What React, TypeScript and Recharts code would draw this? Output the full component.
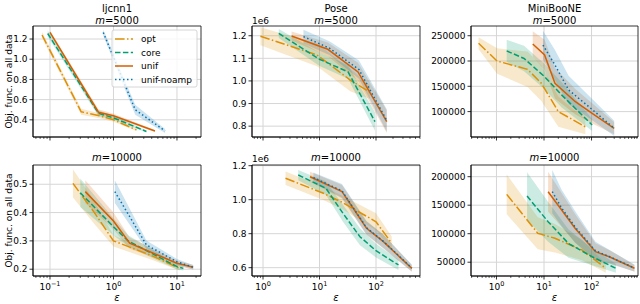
import React from 'react';
import { ComposedChart, Line, Area, XAxis, YAxis, CartesianGrid, ReferenceArea } from 'recharts';

// each point: [epsilon, objective, half width of the shaded band]
type Pt = [number, number, number];

// ljcnn1, m=5000
const LJ5_OPT: Pt[] = [[0.075, 1.24, 0.03], [0.31, 0.48, 0.03], [0.6, 0.44, 0.025], [1.0, 0.4, 0.02], [2.3, 0.3, 0.01]];
const LJ5_CORE: Pt[] = [[0.092, 1.255, 0.03], [0.58, 0.465, 0.03], [1.0, 0.42, 0.02], [3.3, 0.285, 0.01]];
const LJ5_UNIF: Pt[] = [[0.1, 1.265, 0.02], [0.58, 0.475, 0.03], [1.0, 0.44, 0.02], [4.5, 0.29, 0.01]];
const LJ5_NOAMP: Pt[] = [[0.69, 1.265, 0.03], [2.2, 0.5, 0.05], [6.5, 0.29, 0.02]];

// ljcnn1, m=10000
const LJ10_OPT: Pt[] = [[0.23, 0.503, 0.05], [0.5, 0.4, 0.04], [1.0, 0.3, 0.02], [3.8, 0.25, 0.015], [11, 0.203, 0.008]];
const LJ10_CORE: Pt[] = [[0.3, 0.47, 0.05], [1.0, 0.35, 0.03], [1.7, 0.3, 0.02], [10, 0.209, 0.01], [12.6, 0.203, 0.008]];
const LJ10_UNIF: Pt[] = [[0.36, 0.474, 0.04], [1.0, 0.37, 0.03], [1.8, 0.292, 0.02], [10, 0.221, 0.01], [18, 0.207, 0.008]];
const LJ10_NOAMP: Pt[] = [[1.05, 0.474, 0.04], [3.3, 0.286, 0.015], [10, 0.226, 0.01], [18, 0.207, 0.008]];

// Pose, m=5000
const PO5_OPT: Pt[] = [[0.9, 1.198e6, 0.04e6], [9, 1.115e6, 0.05e6], [35, 1.004e6, 0.05e6], [78, 0.95e6, 0.03e6]];
const PO5_CORE: Pt[] = [[1.9, 1.21e6, 0.02e6], [10, 1.096e6, 0.03e6], [32, 1.04e6, 0.03e6], [96, 0.82e6, 0.04e6]];
const PO5_UNIF: Pt[] = [[3.2, 1.199e6, 0.02e6], [14, 1.14e6, 0.03e6], [48, 1.04e6, 0.04e6], [155, 0.82e6, 0.05e6]];
const PO5_NOAMP: Pt[] = [[5.2, 1.196e6, 0.03e6], [15, 1.145e6, 0.03e6], [50, 1.05e6, 0.04e6], [155, 0.825e6, 0.05e6]];

// Pose, m=10000
const PO10_OPT: Pt[] = [[2.5, 1.126e6, 0.04e6], [11.7, 1.038e6, 0.04e6], [26, 0.982e6, 0.04e6], [100, 0.87e6, 0.05e6], [190, 0.743e6, 0.04e6]];
const PO10_CORE: Pt[] = [[4.2, 1.145e6, 0.03e6], [13, 1.067e6, 0.04e6], [26, 0.92e6, 0.05e6], [52, 0.782e6, 0.05e6], [100, 0.7e6, 0.04e6], [250, 0.616e6, 0.03e6]];
const PO10_UNIF: Pt[] = [[6.8, 1.135e6, 0.03e6], [25, 1.047e6, 0.04e6], [68, 0.832e6, 0.04e6], [135, 0.753e6, 0.04e6], [430, 0.596e6, 0.02e6]];
const PO10_NOAMP: Pt[] = [[7.8, 1.13e6, 0.03e6], [25, 1.052e6, 0.04e6], [68, 0.835e6, 0.04e6], [135, 0.755e6, 0.04e6], [430, 0.598e6, 0.02e6]];

// MiniBooNE, m=5000
const MB5_OPT: Pt[] = [[0.42, 235000, 12000], [1.03, 200000, 25000], [4.5, 183600, 35000], [8.8, 156000, 35000], [20, 100000, 30000], [74, 70000, 15000]];
const MB5_CORE: Pt[] = [[1.64, 220000, 22000], [3.8, 205000, 25000], [10.3, 169000, 25000], [23.5, 133000, 25000], [103, 73500, 12000]];
const MB5_UNIF: Pt[] = [[5.8, 233600, 25000], [10.3, 212000, 30000], [17, 156000, 30000], [45, 120000, 25000], [103, 96500, 20000], [300, 67000, 12000]];
const MB5_NOAMP: Pt[] = [[9.5, 231600, 28000], [17, 192000, 30000], [33, 142700, 28000], [87, 110000, 22000], [300, 67000, 15000]];

// MiniBooNE, m=10000
const MB10_OPT: Pt[] = [[1.64, 169000, 35000], [7.4, 100700, 28000], [17, 92000, 25000], [63, 71400, 18000], [200, 39300, 8000]];
const MB10_CORE: Pt[] = [[4.4, 166000, 42000], [12.2, 121000, 35000], [32.6, 83000, 25000], [103, 59600, 15000], [325, 39300, 8000]];
const MB10_UNIF: Pt[] = [[12.2, 173700, 35000], [23.5, 141600, 30000], [45, 109500, 25000], [121, 68400, 15000], [235, 59600, 12000], [800, 39300, 6000]];
const MB10_NOAMP: Pt[] = [[14.9, 173700, 38000], [23.5, 145000, 32000], [45, 112000, 28000], [121, 70000, 16000], [235, 60000, 12000], [800, 39800, 6000]];

const SERIES_NAMES = ['opt', 'core', 'unif', 'unif-noamp'];
const SERIES_COLORS = ['#de8f05', '#029e73', '#d55e00', '#0173b2'];
const SERIES_DASH = ['9.6 2.4 1.5 2.4', '5.5 2.4', undefined, '1.5 2.5'];

const DATASETS = ['ljcnn1', 'Pose', 'MiniBooNE'];
const SIZES = ['5000', '10000'];

const LJ5_TICKS = [0.4, 0.6, 0.8, 1.0, 1.2];
const LJ10_TICKS = [0.2, 0.3, 0.4, 0.5];
const PO5_TICKS = [0.8e6, 0.9e6, 1.0e6, 1.1e6, 1.2e6];
const PO10_TICKS = [0.6e6, 0.8e6, 1.0e6, 1.2e6];
const MB5_TICKS = [100000, 150000, 200000, 250000];
const MB10_TICKS = [50000, 100000, 150000, 200000];

const COLS = [
  { left: 33, right: 201, yW: 33, x: [0.054, 23.9], majors: [0.1, 1, 10] },
  { left: 252, right: 420, yW: 46, x: [0.638, 601], majors: [1, 10, 100] },
  { left: 471, right: 638, yW: 50, x: [0.291, 950], majors: [1, 10, 100] },
];
const ROWS = [
  { top: 26, bottom: 137, chartTop: 0, xH: 13 },
  { top: 165, bottom: 276, chartTop: 150, xH: 26 },
];

const PANELS = [
  { row: 0, col: 0, series: [LJ5_OPT, LJ5_CORE, LJ5_UNIF, LJ5_NOAMP], y: [0.23, 1.329], ticks: LJ5_TICKS, fmt: (v: number) => v.toFixed(1) },
  { row: 0, col: 1, series: [PO5_OPT, PO5_CORE, PO5_UNIF, PO5_NOAMP], y: [0.752e6, 1.243e6], ticks: PO5_TICKS, fmt: (v: number) => (v / 1e6).toFixed(1) },
  { row: 0, col: 2, series: [MB5_OPT, MB5_CORE, MB5_UNIF, MB5_NOAMP], y: [49800, 269200], ticks: MB5_TICKS, fmt: (v: number) => String(v) },
  { row: 1, col: 0, series: [LJ10_OPT, LJ10_CORE, LJ10_UNIF, LJ10_NOAMP], y: [0.176, 0.568], ticks: LJ10_TICKS, fmt: (v: number) => v.toFixed(1) },
  { row: 1, col: 1, series: [PO10_OPT, PO10_CORE, PO10_UNIF, PO10_NOAMP], y: [0.551e6, 1.204e6], ticks: PO10_TICKS, fmt: (v: number) => (v / 1e6).toFixed(1) },
  { row: 1, col: 2, series: [MB10_OPT, MB10_CORE, MB10_UNIF, MB10_NOAMP], y: [25800, 220500], ticks: MB10_TICKS, fmt: (v: number) => String(v) },
];

// major + minor positions for a log axis
function logTicks(lo: number, hi: number) {
  const out: number[] = [];
  for (let k = Math.floor(Math.log10(lo)); k <= Math.ceil(Math.log10(hi)); k++) {
    for (let m = 1; m <= 9; m++) {
      const v = Number((m * Math.pow(10, k)).toPrecision(6));
      if (v >= lo && v <= hi) out.push(v);
    }
  }
  return out;
}

function XTick(props: any) {
  const { x, y, payload, showLabel } = props;
  const lg = Math.log10(payload.value);
  const exp = Math.round(lg);
  const major = Math.abs(lg - exp) < 1e-6;
  return (
    <g>
      <line x1={x} x2={x} y1={y} y2={y + (major ? 3.5 : 2)} stroke="#000" strokeWidth={major ? 0.8 : 0.6} />
      {major && showLabel && (
        <text x={x} y={y + 14} textAnchor="middle" fontSize={9} fill="#000">
          <tspan>10</tspan>
          <tspan dy={-4} fontSize={6.5}>{exp < 0 ? '\u2212' + -exp : exp}</tspan>
        </text>
      )}
    </g>
  );
}

const axisStroke = { stroke: '#000', strokeWidth: 0.8 };

function Panel({ p }: { p: (typeof PANELS)[number] }) {
  const c = COLS[p.col];
  const r = ROWS[p.row];
  const mt = r.top - r.chartTop;
  const width = c.yW + (c.right - c.left) + 2;
  const height = mt + (r.bottom - r.top) + r.xH;
  const data = p.series.map((pts) => pts.map(([eps, obj, err]) => ({ eps, obj, band: [obj - err, obj + err] })));
  return (
    <div style={{ position: 'absolute', left: c.left - c.yW, top: r.chartTop }}>
      <ComposedChart width={width} height={height} margin={{ top: mt, right: 2, bottom: 0, left: 0 }}>
        <CartesianGrid stroke="#d6d6d6" strokeWidth={1} verticalValues={c.majors} horizontalValues={p.ticks} />
        <XAxis
          dataKey="eps"
          type="number"
          scale="log"
          domain={c.x}
          allowDataOverflow
          ticks={logTicks(c.x[0], c.x[1])}
          interval={0}
          height={r.xH}
          tickSize={0}
          tickMargin={0}
          tickLine={false}
          axisLine={axisStroke}
          tick={(tp: any) => <XTick {...tp} showLabel={p.row === 1} />}
        />
        <YAxis
          type="number"
          domain={p.y}
          allowDataOverflow
          ticks={p.ticks}
          interval={0}
          width={c.yW}
          tickSize={3.5}
          tickMargin={2}
          tickFormatter={p.fmt}
          axisLine={axisStroke}
          tickLine={axisStroke}
          tick={{ fontSize: 9, fill: '#000' }}
        />
        {data.map((d, i) => (
          <Area key={'a' + i} data={d} dataKey="band" type="linear" stroke="none" fill={SERIES_COLORS[i]} fillOpacity={0.2} isAnimationActive={false} />
        ))}
        {data.map((d, i) => (
          <Line
            key={'l' + i}
            data={d}
            dataKey="obj"
            type="linear"
            stroke={SERIES_COLORS[i]}
            strokeWidth={1.5}
            strokeDasharray={SERIES_DASH[i]}
            dot={false}
            activeDot={false}
            isAnimationActive={false}
          />
        ))}
        <ReferenceArea x1={c.x[0]} x2={c.x[1]} y1={p.y[0]} y2={p.y[1]} fill="none" stroke="#000" strokeWidth={0.8} ifOverflow="visible" />
      </ComposedChart>
    </div>
  );
}

export default function App() {
  return (
    <div
      style={{
        position: 'absolute',
        left: 0,
        top: 0,
        width: 640,
        height: 304,
        overflow: 'hidden',
        background: '#fff',
        fontFamily: '"DejaVu Sans", sans-serif',
      }}
    >
      {PANELS.map((p, i) => (
        <Panel key={i} p={p} />
      ))}
      <svg width={640} height={304} style={{ position: 'absolute', left: 0, top: 0, pointerEvents: 'none' }} fontFamily='"DejaVu Sans", sans-serif'>
        {COLS.map((c, i) => (
          <g key={i}>
            <text x={(c.left + c.right) / 2} y={12} textAnchor="middle" fontSize={10}>{DATASETS[i]}</text>
            <text x={(c.left + c.right) / 2} y={24} textAnchor="middle" fontSize={10}>
              <tspan fontStyle="italic">m</tspan>={SIZES[0]}
            </text>
            <text x={(c.left + c.right) / 2} y={161} textAnchor="middle" fontSize={10}>
              <tspan fontStyle="italic">m</tspan>={SIZES[1]}
            </text>
            <text x={(c.left + c.right) / 2} y={301} textAnchor="middle" fontSize={10} fontStyle="italic">ε</text>
          </g>
        ))}
        <text x={COLS[1].left} y={24} fontSize={9}>1e6</text>
        <text x={COLS[1].left} y={162} fontSize={9}>1e6</text>
        {ROWS.map((r, i) => (
          <text key={i} transform={`translate(12,${(r.top + r.bottom) / 2}) rotate(-90)`} textAnchor="middle" fontSize={9}>
            Obj. func. on all data
          </text>
        ))}
        <rect x={112} y={30} width={85} height={57} rx={2} fill="#fff" fillOpacity={0.8} stroke="#cccccc" strokeWidth={0.8} />
        {SERIES_NAMES.map((n, i) => (
          <g key={n}>
            <line x1={115} x2={133} y1={39 + i * 13.5} y2={39 + i * 13.5} stroke={SERIES_COLORS[i]} strokeWidth={1.5} strokeDasharray={SERIES_DASH[i]} />
            <text x={141} y={42 + i * 13.5} fontSize={9}>{n}</text>
          </g>
        ))}
      </svg>
    </div>
  );
}
